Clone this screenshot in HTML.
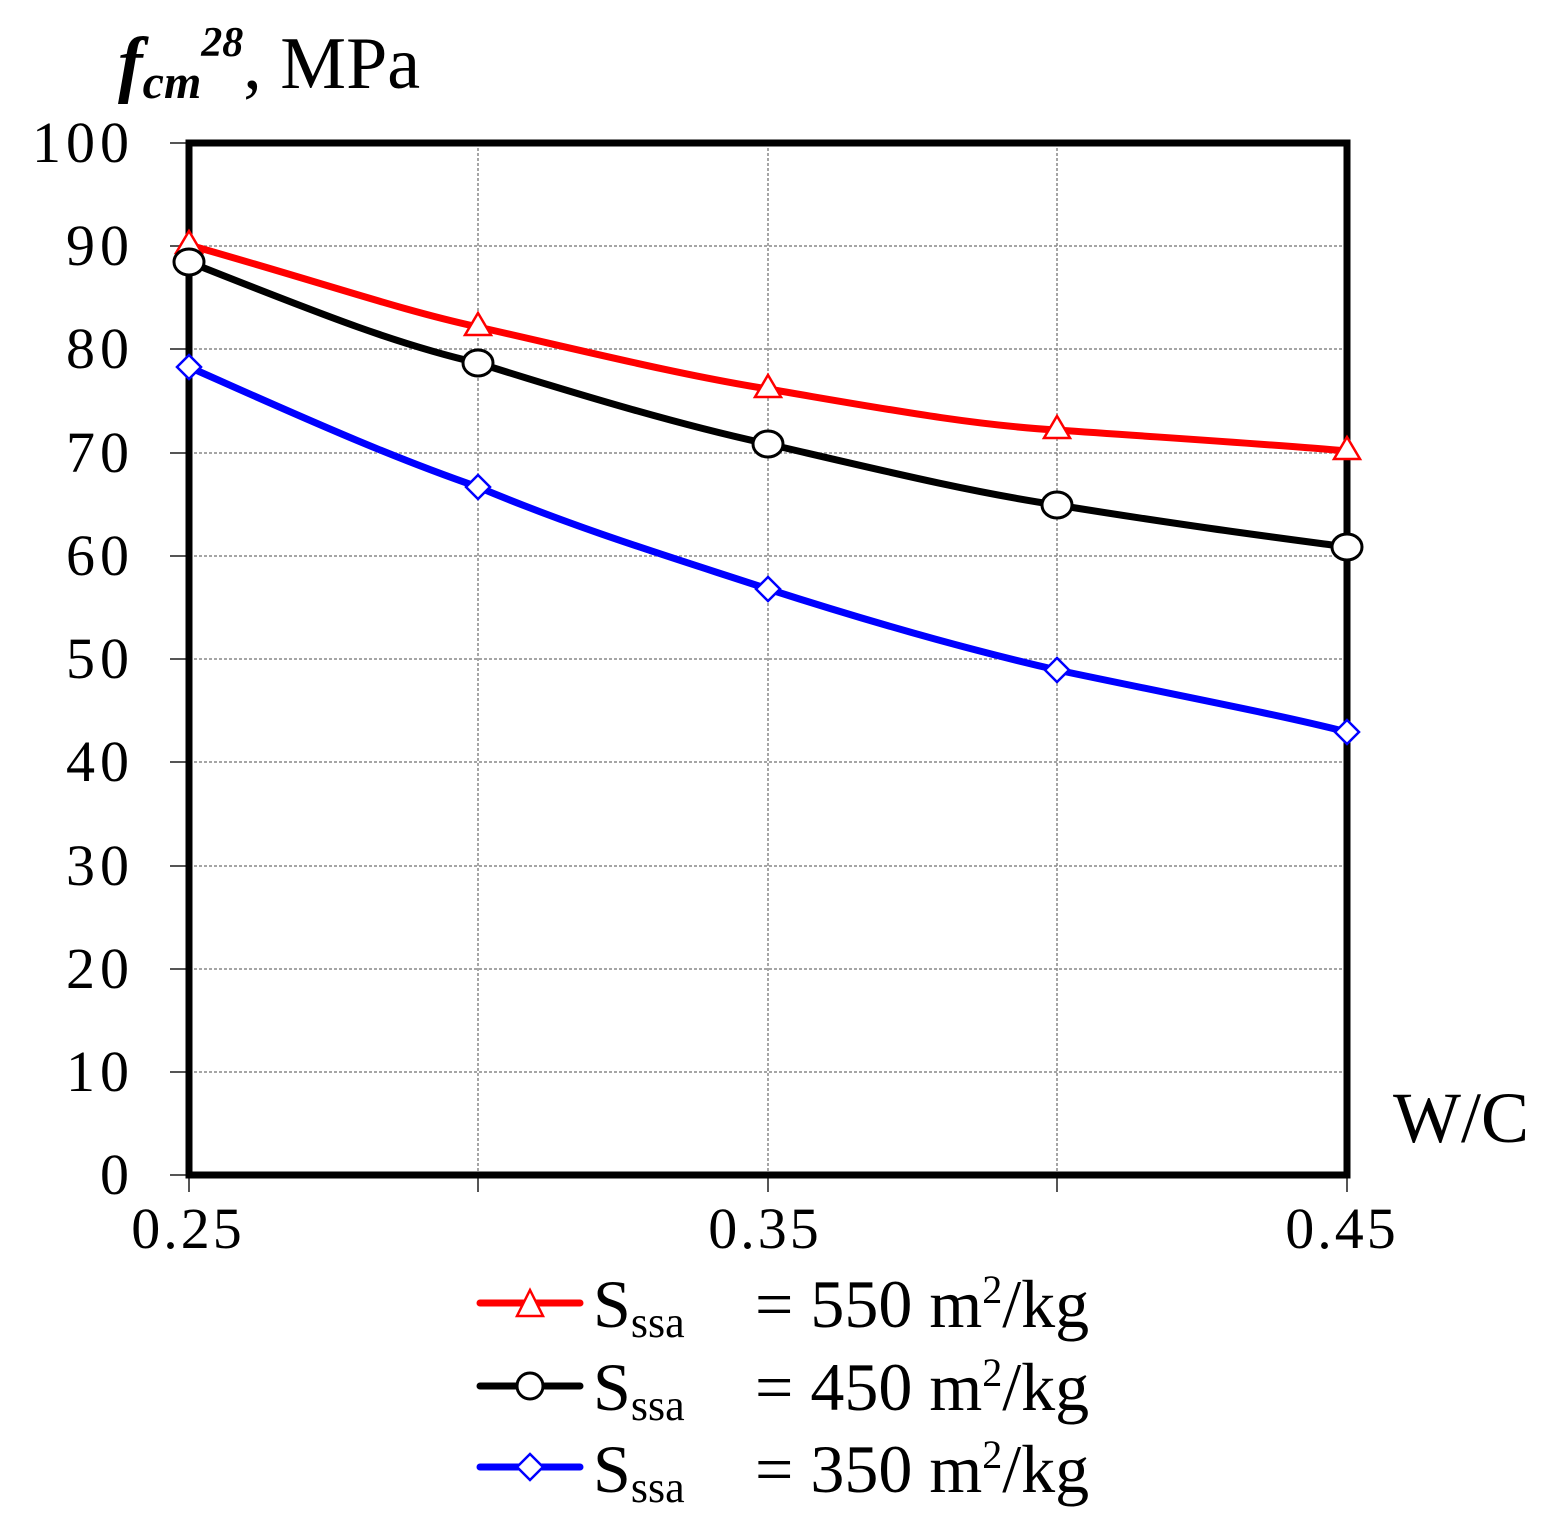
<!DOCTYPE html>
<html><head><style>body{margin:0;background:#fff}svg{display:block}</style></head>
<body>
<svg width="1561" height="1530" viewBox="0 0 1561 1530" xmlns="http://www.w3.org/2000/svg" font-family="'Liberation Serif',serif">
<g stroke="#888" stroke-width="1.5" stroke-dasharray="3,2">
<line x1="478" y1="143" x2="478" y2="1175"/><line x1="768" y1="143" x2="768" y2="1175"/><line x1="1057" y1="143" x2="1057" y2="1175"/>
<line x1="189" y1="246" x2="1347" y2="246"/><line x1="189" y1="349" x2="1347" y2="349"/><line x1="189" y1="453" x2="1347" y2="453"/>
<line x1="189" y1="556" x2="1347" y2="556"/><line x1="189" y1="659" x2="1347" y2="659"/><line x1="189" y1="762" x2="1347" y2="762"/>
<line x1="189" y1="866" x2="1347" y2="866"/><line x1="189" y1="969" x2="1347" y2="969"/><line x1="189" y1="1072" x2="1347" y2="1072"/>
</g>
<g stroke="#555" stroke-width="2">
<line x1="170" y1="143" x2="189" y2="143"/><line x1="170" y1="246" x2="189" y2="246"/><line x1="170" y1="349" x2="189" y2="349"/><line x1="170" y1="453" x2="189" y2="453"/><line x1="170" y1="556" x2="189" y2="556"/><line x1="170" y1="659" x2="189" y2="659"/><line x1="170" y1="762" x2="189" y2="762"/><line x1="170" y1="866" x2="189" y2="866"/><line x1="170" y1="969" x2="189" y2="969"/><line x1="170" y1="1072" x2="189" y2="1072"/><line x1="170" y1="1175" x2="189" y2="1175"/>
<line x1="189" y1="1175" x2="189" y2="1192"/><line x1="478" y1="1175" x2="478" y2="1192"/><line x1="768" y1="1175" x2="768" y2="1192"/><line x1="1057" y1="1175" x2="1057" y2="1192"/><line x1="1347" y1="1175" x2="1347" y2="1192"/>
</g>
<rect x="189" y="143" width="1158" height="1032" fill="none" stroke="#000" stroke-width="7"/>
<g fill="none" stroke-width="7" stroke-linejoin="round" stroke-linecap="round">
<path stroke="#f00" d="M189,245 C330,285 400,310 478,327 C580,350 680,375 768,389 C880,408 970,425 1057,430 C1200,440 1280,445 1347,451"/>
<path stroke="#000" d="M189,262 C330,318 400,345 478,363 C580,395 680,425 768,444 C880,470 970,492 1057,505 C1200,528 1280,538 1347,547"/>
<path stroke="#00f" d="M189,367 C330,430 400,460 478,487 C580,530 680,560 768,589 C880,625 970,650 1057,670 C1200,700 1280,715 1347,732"/>
</g>
<g fill="#fff" stroke-width="2.5">
<g stroke="#f00"><path d="M189,231 L202,253 L176,253Z"/><path d="M478,313 L491,335 L465,335Z"/><path d="M768,375 L781,397 L755,397Z"/><path d="M1057,416 L1070,438 L1044,438Z"/><path d="M1347,437 L1360,459 L1334,459Z"/></g>
<g stroke="#000" stroke-width="3"><ellipse cx="189" cy="262" rx="15" ry="13"/><ellipse cx="478" cy="363" rx="15" ry="13"/><ellipse cx="768" cy="444" rx="15" ry="13"/><ellipse cx="1057" cy="505" rx="15" ry="13"/><ellipse cx="1347" cy="547" rx="15" ry="13"/></g>
<g stroke="#00f"><path d="M189,355 L201,367 L189,379 L177,367Z"/><path d="M478,475 L490,487 L478,499 L466,487Z"/><path d="M768,577 L780,589 L768,601 L756,589Z"/><path d="M1057,658 L1069,670 L1057,682 L1045,670Z"/><path d="M1347,720 L1359,732 L1347,744 L1335,732Z"/></g>
</g>
<g font-size="58" text-anchor="end" fill="#000" letter-spacing="5">
<text x="134" y="162">100</text><text x="134" y="265">90</text><text x="134" y="368">80</text><text x="134" y="472">70</text><text x="134" y="575">60</text><text x="134" y="678">50</text><text x="134" y="781">40</text><text x="134" y="885">30</text><text x="134" y="988">20</text><text x="134" y="1091">10</text><text x="134" y="1194">0</text>
</g>
<g font-size="58" text-anchor="middle" letter-spacing="3"><text x="188" y="1248">0.25</text><text x="765" y="1248">0.35</text><text x="1342" y="1248">0.45</text></g>
<text x="1393" y="1142" font-size="72">W/C</text>
<text x="118" y="88" font-size="74"><tspan font-style="italic" font-weight="bold">f</tspan><tspan font-style="italic" font-weight="bold" font-size="48" dy="10">cm</tspan><tspan font-style="italic" font-weight="bold" font-size="42" dy="-42">28</tspan><tspan dy="32">, MPa</tspan></text>
<g stroke-width="7" stroke-linecap="round">
<line x1="480" y1="1303" x2="580" y2="1303" stroke="#f00"/><line x1="480" y1="1386" x2="580" y2="1386" stroke="#000"/><line x1="480" y1="1467" x2="580" y2="1467" stroke="#00f"/>
</g>
<path d="M530,1290 L543,1316 L517,1316Z" fill="#fff" stroke="#f00" stroke-width="2.5"/>
<circle cx="530" cy="1386" r="13" fill="#fff" stroke="#000" stroke-width="3"/>
<path d="M530,1454 L543,1467 L530,1480 L517,1467Z" fill="#fff" stroke="#00f" stroke-width="2.5"/>
<g font-size="68">
<text x="593" y="1327">S<tspan font-size="44" dy="10">ssa</tspan></text><text x="755" y="1327">= 550 m<tspan font-size="40" dy="-24">2</tspan><tspan dy="24">/kg</tspan></text>
<text x="593" y="1410">S<tspan font-size="44" dy="10">ssa</tspan></text><text x="755" y="1410">= 450 m<tspan font-size="40" dy="-24">2</tspan><tspan dy="24">/kg</tspan></text>
<text x="593" y="1492">S<tspan font-size="44" dy="10">ssa</tspan></text><text x="755" y="1492">= 350 m<tspan font-size="40" dy="-24">2</tspan><tspan dy="24">/kg</tspan></text>
</g>
</svg>
</body></html>
